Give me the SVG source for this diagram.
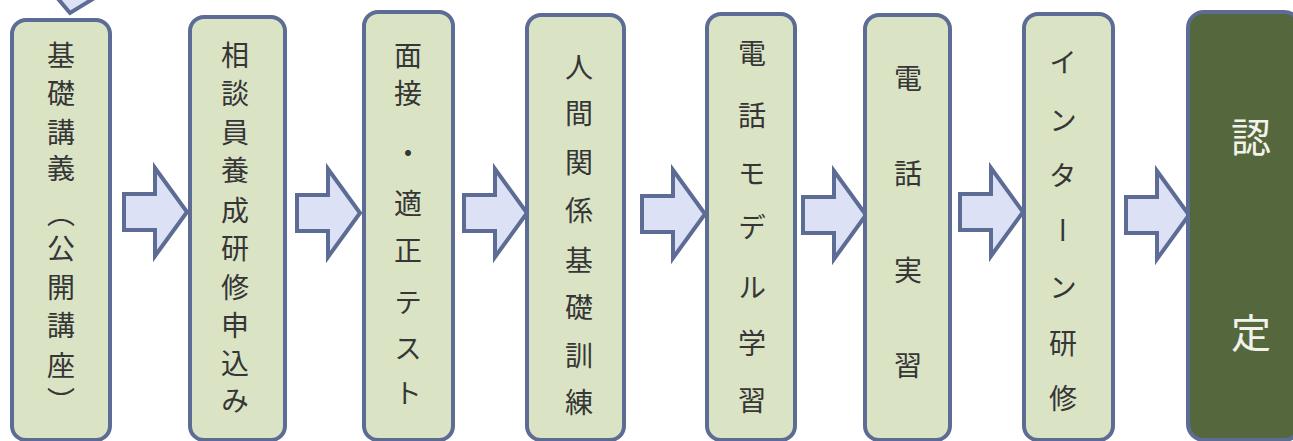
<svg xmlns="http://www.w3.org/2000/svg" width="1293" height="441" viewBox="0 0 1293 441">
<defs>
<style>
.box{fill:#dae4c5;stroke:#5c6c94;stroke-width:4}
.final{fill:#55683d;stroke:#5c6c94;stroke-width:4}
.arw{fill:#dde1f5;stroke:#5c6c94;stroke-width:4;stroke-linejoin:miter}
.v{font-family:"Noto Sans CJK JP","Noto Sans",sans-serif;font-size:28px;fill:#363636;writing-mode:vertical-rl;text-anchor:middle}
.p{font-family:"Noto Sans CJK JP","Noto Sans",sans-serif;font-size:28px;fill:#363636;text-anchor:middle;dominant-baseline:central}
.w{font-family:"Noto Sans CJK JP","Noto Sans",sans-serif;font-size:40px;fill:#f2f2ea;writing-mode:vertical-rl;text-anchor:middle}
</style>
<path id="arrow" d="M0,-18 H31 V-44 L63,0 L31,44 V18 H0 Z"/>
</defs>
<rect width="1293" height="441" fill="#ffffff"/>
<g id="connectors">
<polygon class="arw" points="54,-6 70,13 101,-6"/>
<use href="#arrow" class="arw" transform="translate(124,212)"/>
<use href="#arrow" class="arw" transform="translate(297,213)"/>
<use href="#arrow" class="arw" transform="translate(464,213)"/>
<use href="#arrow" class="arw" transform="translate(642,214)"/>
<use href="#arrow" class="arw" transform="translate(803,215)"/>
<use href="#arrow" class="arw" transform="translate(960,212)"/>
<use href="#arrow" class="arw" transform="translate(1126,215)"/>
</g>
<g id="n1">
<rect class="box" x="12" y="20" width="98" height="420" rx="14"/>
<text class="v" x="61" y="55">基</text>
<text class="v" x="61" y="93">礎</text>
<text class="v" x="61" y="132">講</text>
<text class="v" x="61" y="168">義</text>
<text class="p" x="61" y="212">︵</text>
<text class="v" x="61" y="248">公</text>
<text class="v" x="61" y="287">開</text>
<text class="v" x="61" y="325">講</text>
<text class="v" x="61" y="365">座</text>
<text class="p" x="61" y="400">︶</text>
</g>
<g id="n2">
<rect class="box" x="190" y="17" width="95" height="423" rx="14"/>
<text class="v" x="235" y="55">相</text>
<text class="v" x="235" y="93">談</text>
<text class="v" x="235" y="132">員</text>
<text class="v" x="235" y="170">養</text>
<text class="v" x="235" y="210">成</text>
<text class="v" x="235" y="248">研</text>
<text class="v" x="235" y="287">修</text>
<text class="v" x="235" y="325">申</text>
<text class="v" x="235" y="363">込</text>
<text class="v" x="235" y="400">み</text>
</g>
<g id="n3">
<rect class="box" x="364" y="12" width="89" height="428" rx="14"/>
<text class="v" x="408" y="55">面</text>
<text class="v" x="408" y="93">接</text>
<text class="v" x="408" y="153">・</text>
<text class="v" x="408" y="203">適</text>
<text class="v" x="408" y="250">正</text>
<text class="v" x="408" y="302">テ</text>
<text class="v" x="408" y="348">ス</text>
<text class="v" x="408" y="393">ト</text>
</g>
<g id="n4">
<rect class="box" x="527" y="15" width="97" height="425" rx="14"/>
<text class="v" x="579" y="67">人</text>
<text class="v" x="579" y="113">間</text>
<text class="v" x="579" y="162">関</text>
<text class="v" x="579" y="210">係</text>
<text class="v" x="579" y="260">基</text>
<text class="v" x="579" y="307">礎</text>
<text class="v" x="579" y="355">訓</text>
<text class="v" x="579" y="402">練</text>
</g>
<g id="n5">
<rect class="box" x="707" y="14" width="88" height="426" rx="14"/>
<text class="v" x="752" y="53">電</text>
<text class="v" x="752" y="115">話</text>
<text class="v" x="752" y="173">モ</text>
<text class="v" x="752" y="227">デ</text>
<text class="v" x="752" y="287">ル</text>
<text class="v" x="752" y="343">学</text>
<text class="v" x="752" y="400">習</text>
</g>
<g id="n6">
<rect class="box" x="865" y="15" width="85" height="425" rx="14"/>
<text class="v" x="908" y="78">電</text>
<text class="v" x="908" y="173">話</text>
<text class="v" x="908" y="270">実</text>
<text class="v" x="908" y="365">習</text>
</g>
<g id="n7">
<rect class="box" x="1024" y="14" width="89" height="426" rx="14"/>
<text class="v" x="1063" y="62">イ</text>
<text class="v" x="1063" y="120">ン</text>
<text class="v" x="1063" y="175">タ</text>
<text class="v" x="1063" y="230">ー</text>
<text class="v" x="1063" y="287">ン</text>
<text class="v" x="1063" y="343">研</text>
<text class="v" x="1063" y="398">修</text>
</g>
<g id="n8">
<rect class="final" x="1188" y="12" width="112" height="428" rx="16"/>
<text class="w" x="1251" y="137">認</text>
<text class="w" x="1251" y="333">定</text>
</g>
</svg>
